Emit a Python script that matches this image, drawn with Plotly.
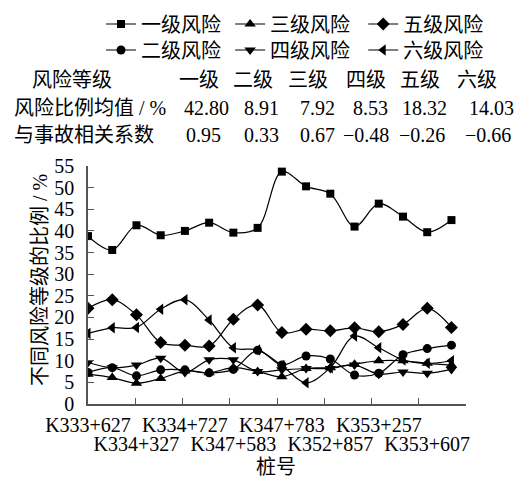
import numpy as np
import plotly.graph_objects as go

# ---------------- data ----------------
stations = ["K333+627", "K334+327", "K334+727", "K347+583",
            "K347+783", "K352+857", "K353+257", "K353+607"]
n_points = 16

grade1 = [38.8, 35.6, 41.3, 39.0, 40.0, 41.9, 39.6, 40.7, 53.7, 50.3, 48.6, 41.0, 46.3, 43.3, 39.7, 42.5]
grade2 = [7.3, 8.4, 6.5, 7.9, 7.9, 7.2, 8.0, 12.4, 9.0, 11.1, 10.4, 6.7, 7.1, 11.4, 12.8, 13.6]
grade3 = [6.9, 6.1, 4.8, 5.9, 7.6, 7.2, 8.4, 7.5, 6.3, 8.2, 8.4, 9.2, 10.0, 10.0, 9.4, 9.0]
grade4 = [9.6, 8.4, 9.0, 10.6, 7.3, 10.2, 10.2, 7.5, 7.9, 8.2, 8.2, 9.0, 6.9, 7.4, 7.1, 8.0]
grade5 = [22.1, 24.1, 20.6, 14.2, 13.6, 13.4, 19.6, 22.9, 16.5, 17.3, 16.9, 17.6, 16.7, 18.4, 22.1, 17.7]
grade6 = [16.3, 17.6, 17.7, 21.9, 24.1, 19.4, 13.0, 12.5, 8.9, 4.9, 8.4, 15.7, 13.0, 10.2, 9.4, 10.0]

series_names = ["一级风险", "二级风险", "三级风险", "四级风险", "五级风险", "六级风险"]
series_values = [grade1, grade2, grade3, grade4, grade5, grade6]

table_header_label = "风险等级"
table_headers = ["一级", "二级", "三级", "四级", "五级", "六级"]
table_row2_label = "风险比例均值 / %"
table_row2 = ["42.80", "8.91", "7.92", "8.53", "18.32", "14.03"]
table_row3_label = "与事故相关系数"
table_row3 = ["0.95", "0.33", "0.67", "−0.48", "−0.26", "−0.66"]

y_title = "不同风险等级的比例 / %"
x_title = "桩号"

# ---------------- style ----------------
W, H = 532, 479
OFF = 8  # page body margin
AX_L, AX_R, AX_T, AX_B = 88, 465.7, 166, 404   # target page pixels of the plot area
L, T = AX_L - OFF, AX_T - OFF
R, B = W - (AX_R - OFF), H - (AX_B - OFF)
PW, PH = AX_R - AX_L, AX_B - AX_T
FONT = "Liberation Serif, 'Noto Sans CJK SC', serif"
FS = 20
AXC = "#555555"

symbols = ["square", "circle", "triangle-up", "triangle-down", "diamond", "triangle-left"]
sizes = [8, 9, 10, 10, 10, 10]
# legend slots: (left px, centre y px) in page pixels
legend_slots = [(101, 24), (101, 50), (230, 24), (230, 50), (363, 24), (363, 50)]

x_max = 15.6
x = np.arange(n_points)


def px_x(p):
    return (p - AX_L) / PW


def px_y(p):
    return 1 + (AX_T - p) / PH


fig = go.Figure()
legend_layout = {}
for i, (name, vals, sym, sz, slot) in enumerate(zip(series_names, series_values, symbols, sizes, legend_slots)):
    lid = "legend" if i == 0 else f"legend{i + 1}"
    fig.add_trace(go.Scatter(
        x=x, y=vals, name=name, mode="lines+markers",
        line=dict(color="black", width=1.2, shape="spline", smoothing=1.0),
        marker=dict(symbol=sym, size=sz, color="black"),
        legend=lid,
    ))
    legend_layout[lid] = dict(x=px_x(slot[0]), y=px_y(slot[1]), xanchor="left", yanchor="middle",
                              itemwidth=30, font=dict(size=FS), bgcolor="rgba(0,0,0,0)",
                              borderwidth=0)

# carriers for the two label rows of the station axis (no visible marks)
for ax in ["x2", "x3"]:
    fig.add_trace(go.Scatter(x=[0], y=[0], xaxis=ax, mode="markers", marker=dict(opacity=0),
                             showlegend=False, hoverinfo="skip"))

label_pos = np.arange(0, n_points, 2)

fig.update_layout(
    width=W, height=H,
    margin=dict(l=L, r=R, t=T, b=B, pad=0, autoexpand=False),
    paper_bgcolor="white", plot_bgcolor="white",
    font=dict(family=FONT, size=FS, color="black"),
    showlegend=True,
    xaxis=dict(range=[0, x_max], tickvals=np.linspace(0, x_max, 9), showticklabels=False,
               ticks="inside", ticklen=6, tickcolor=AXC, tickwidth=1.2,
               showline=True, linecolor=AXC, linewidth=1.5, showgrid=False, zeroline=False),
    xaxis2=dict(range=[0, x_max], overlaying="x", anchor="y", side="bottom",
                tickvals=label_pos[::2], ticktext=stations[::2], ticks="",
                showline=False, showgrid=False, zeroline=False, ticklabelstandoff=7,
                tickfont=dict(size=FS)),
    xaxis3=dict(range=[0, x_max], overlaying="x", anchor="y", side="bottom",
                tickvals=label_pos[1::2], ticktext=stations[1::2], ticks="",
                showline=False, showgrid=False, zeroline=False, ticklabelstandoff=26,
                tickfont=dict(size=FS)),
    yaxis=dict(range=[0, 55], dtick=5, ticks="inside", ticklen=6, tickcolor=AXC, tickwidth=1.2,
               showline=True, linecolor=AXC, linewidth=1.5, showgrid=False, zeroline=False,
               ticklabelstandoff=8, tickfont=dict(size=FS)),
    **legend_layout,
)

ann = []


def add_text(text, px, py, xanchor="center", **kw):
    ann.append(dict(text=text, x=px_x(px), y=px_y(py), xref="paper", yref="paper",
                    xanchor=xanchor, yanchor="middle", showarrow=False, **kw))


add_text(y_title, 40, 280, textangle=-90)
add_text(x_title, 276, 467)

row_y = [80, 108, 135]
add_text(table_header_label, 30, row_y[0], xanchor="left")
add_text(table_row2_label, 12, row_y[1], xanchor="left")
add_text(table_row3_label, 12, row_y[2], xanchor="left")
hdr_cx = [199, 253, 308, 366, 420, 477]
r2_cx = [206, 261, 317, 370, 424, 491]
r3_cx = [203, 261, 317, 366, 422, 488]
for cx_list, texts, ry in [(hdr_cx, table_headers, row_y[0]), (r2_cx, table_row2, row_y[1]),
                           (r3_cx, table_row3, row_y[2])]:
    for cx, t in zip(cx_list, texts):
        add_text(t, cx, ry)
fig.update_layout(annotations=ann)

fig.write_html("out.html")
